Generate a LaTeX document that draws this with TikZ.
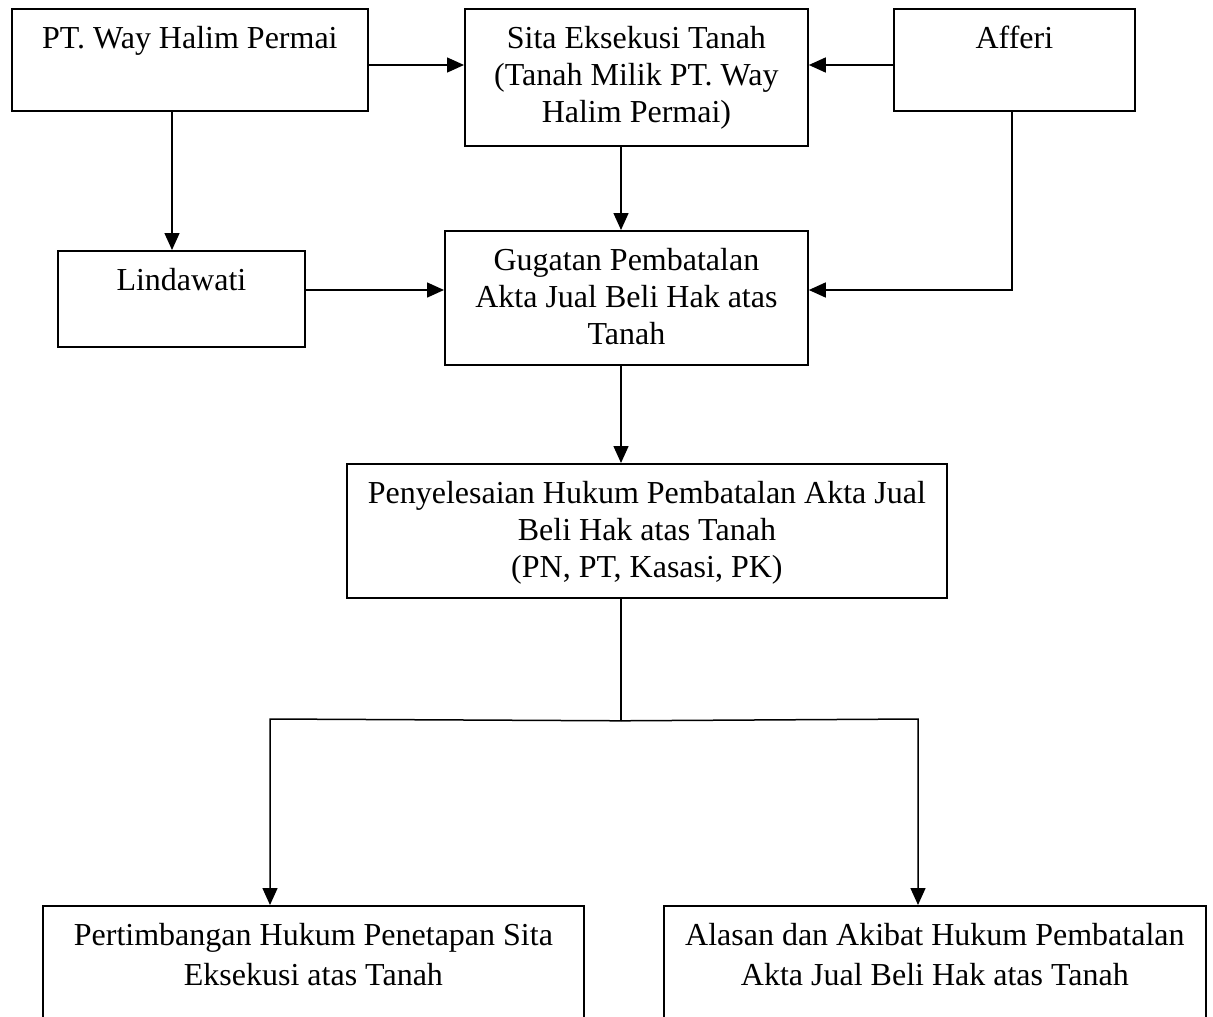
\documentclass[tikz,border=0pt]{standalone}
\usepackage{fontspec}
\setmainfont{Liberation Serif}
\usetikzlibrary{arrows.meta}
\newcommand{\bxtext}[3]{\parbox[c][#2][t]{#1}{\centering\rule{0pt}{40pt}#3\par}}
\tikzset{
  box/.style={draw, line width=1.8pt, inner sep=0pt, anchor=north west,
    font=\fontsize{32}{36.6}\selectfont},
  arr/.style={line width=1.5pt, -{Triangle[length=17pt,width=15pt]}},
  ln/.style={line width=1.5pt},
}
\begin{document}
\begin{tikzpicture}[x=1pt,y=-1pt]
\useasboundingbox (0,0) rectangle (1213,1017);
\clip (0,0) rectangle (1213,1017);
\node[box] (PT) at (11,8) {\bxtext{356pt}{102pt}{PT. Way Halim Permai}};
\node[box] (S) at (464,8) {\bxtext{343pt}{137pt}{Sita Eksekusi Tanah\\(Tanah Milik PT. Way\\Halim Permai)}};
\node[box] (A) at (893,8) {\bxtext{241pt}{102pt}{Afferi}};
\node[box] (L) at (57,250) {\bxtext{247pt}{96pt}{Lindawati}};
\node[box] (G) at (444,230) {\bxtext{363pt}{134pt}{Gugatan Pembatalan\\Akta Jual Beli Hak atas\\Tanah}};
\node[box] (P) at (346,463) {\bxtext{600pt}{134pt}{Penyelesaian Hukum Pembatalan Akta Jual\\Beli Hak atas Tanah\\(PN, PT, Kasasi, PK)}};
\node[box] (B1) at (42,905) {\bxtext{541pt}{150pt}{Pertimbangan Hukum Penetapan Sita\\[3pt]Eksekusi atas Tanah}};
\node[box] (B2) at (663,905) {\bxtext{542pt}{150pt}{Alasan dan Akibat Hukum Pembatalan\\[3pt]Akta Jual Beli Hak atas Tanah}};
\draw[arr] ([yshift=-57pt]PT.north east) -- ([yshift=-57pt]S.north west);
\draw[arr] ([yshift=-57pt]A.north west) -- ([yshift=-57pt]S.north east);
\draw[arr] ([xshift=161pt]PT.south west) -- ([xshift=115pt]L.north west);
\draw[arr] ([xshift=157pt]S.south west) -- ([xshift=177pt]G.north west);
\draw[arr] ([yshift=-40pt]L.north east) -- ([yshift=-60pt]G.north west);
\draw[arr] ([xshift=119pt]A.south west) |- ([yshift=-60pt]G.north east);
\draw[arr] ([xshift=177pt]G.south west) -- ([xshift=275pt]P.north west);
\coordinate (J) at ([xshift=275pt,yshift=-122pt]P.south west);
\coordinate (JL) at (270,719);
\coordinate (JR) at (918,719);
\draw[ln] ([xshift=275pt]P.south west) -- (J);
\draw[arr] (J) -- (JL) -- (JL |- B1.north);
\draw[arr] (J) -- (JR) -- (JR |- B2.north);
\end{tikzpicture}
\end{document}
